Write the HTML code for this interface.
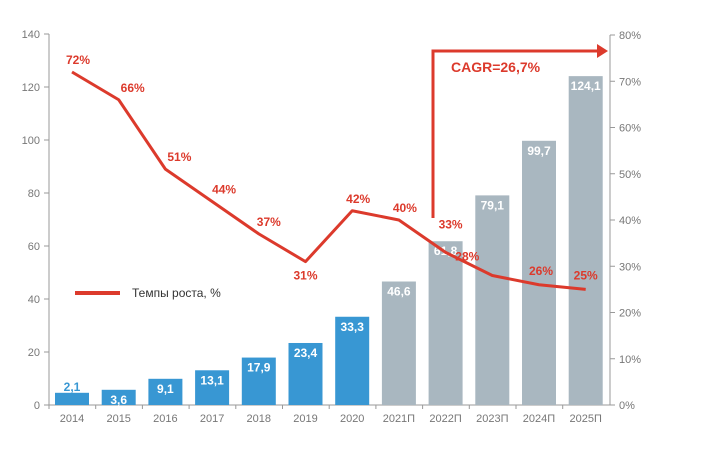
<!DOCTYPE html>
<html><head><meta charset="utf-8"><style>
body{margin:0;background:#fff;}
svg text{font-family:"Liberation Sans",sans-serif;}
</style></head><body>
<svg id="c" width="710" height="445" viewBox="0 0 710 445"></svg>
<script>
const categories=["2014","2015","2016","2017","2018","2019","2020","2021П","2022П","2023П","2024П","2025П"];
const barValues=[2.1,3.6,9.1,13.1,17.9,23.4,33.3,46.6,61.8,79.1,99.7,124.1];
const barLabels=["2,1","3,6","9,1","13,1","17,9","23,4","33,3","46,6","61,8","79,1","99,7","124,1"];
const forecast=[false,false,false,false,false,false,false,true,true,true,true,true];
const growth=[72,66,51,44,37,31,42,40,33,28,26,25];
const leftTicks=[0,20,40,60,80,100,120,140];
const rightTicks=[0,10,20,30,40,50,60,70,80];
const cagrLabel="CAGR=26,7%";

const svg=document.getElementById('c');
const NS="http://www.w3.org/2000/svg";
function mk(t,a,txt){const e=document.createElementNS(NS,t);for(const k in a)e.setAttribute(k,a[k]);if(txt!==undefined)e.textContent=txt;svg.appendChild(e);return e;}
const y0=405, yTop=34;
const yL=v=>y0-(v/140)*(y0-yTop);
const yR=v=>y0-(v/80)*(y0-35);
const xC=i=>72+i*46.7;
const bw=34;
const lblDx=[6,14,14,12,10,0,6,6,5,-25,2,0];
const lblDy=[-8,-8,-8,-8,-8,18,-8,-8,-24,-15,-10,-10];

let e=mk('line',{x1:49,y1:yTop,x2:49,y2:y0,stroke:'#999','stroke-width':1});

e=mk('line',{x1:49,y1:y0,x2:610,y2:y0,stroke:'#999','stroke-width':1});

e=mk('line',{x1:610,y1:35,x2:610,y2:y0,stroke:'#999','stroke-width':1});


leftTicks.forEach(v=>{
  mk('line',{x1:44,y1:yL(v),x2:49,y2:yL(v),stroke:'#999'});
  e=mk('text',{x:40,y:yL(v)+4,'text-anchor':'end','font-size':11,fill:'#777'},String(v));
  
});
rightTicks.forEach(v=>{
  mk('line',{x1:610,y1:yR(v),x2:615,y2:yR(v),stroke:'#999'});
  e=mk('text',{x:619,y:yR(v)+4,'font-size':11,fill:'#777'},v+'%');
  
});
categories.forEach((c,i)=>{
  mk('line',{x1:xC(i)-23,y1:y0,x2:xC(i)-23,y2:y0+4,stroke:'#999'});
  e=mk('text',{x:xC(i),y:y0+17,'text-anchor':'middle','font-size':11,fill:'#777'},c);
  
});
barValues.forEach((v,i)=>{
  const yt=Math.min(yL(v),y0-8-v*2);
  e=mk('rect',{x:xC(i)-bw/2,y:yt,width:bw,height:y0-yt,fill:forecast[i]?'#a9b7c0':'#3897d3'});
  
  const inside=(y0-yt)>14;
  e=mk('text',{x:xC(i),y:inside?yt+14:yt-2,'text-anchor':'middle','font-size':12,'font-weight':'bold',fill:inside?'#fff':'#3897d3'},barLabels[i]);
  
});
const pts=growth.map((g,i)=>xC(i)+','+yR(g)).join(' ');
e=mk('polyline',{points:pts,fill:'none',stroke:'#dc3a2c','stroke-width':3,'stroke-linejoin':'round'});

growth.forEach((g,i)=>{
  e=mk('text',{x:xC(i)+lblDx[i],y:yR(g)+lblDy[i],'text-anchor':'middle','font-size':12,'font-weight':'bold',fill:'#dc3a2c'},g+'%');
  
});
e=mk('line',{x1:75,y1:293,x2:120,y2:293,stroke:'#dc3a2c','stroke-width':4});

e=mk('text',{x:132,y:297,'font-size':12,fill:'#333'},'Темпы роста, %');

e=mk('polyline',{points:'433,218 433,51 600,51',fill:'none',stroke:'#dc3a2c','stroke-width':3});

e=mk('polygon',{points:'597,44 608,51 597,58',fill:'#dc3a2c'});

e=mk('text',{x:451,y:72,'font-size':14,'font-weight':'bold',fill:'#dc3a2c'},cagrLabel);

</script>
</body></html>
